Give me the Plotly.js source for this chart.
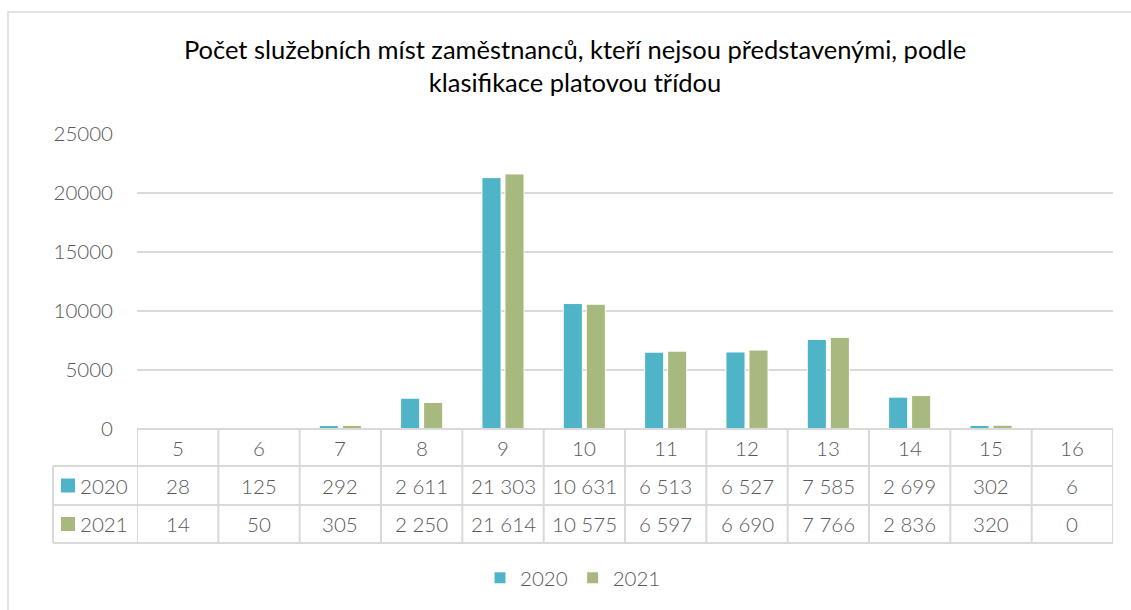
<!DOCTYPE html>
<html>
<head>
<meta charset="utf-8">
<script src="https://cdn.plot.ly/plotly-3.0.1.min.js"></script>
<style>html,body{margin:0;padding:0;background:#fff;}#chart{width:1131px;height:610px;}</style>
</head>
<body>
<div id="chart"></div>
<script>
const categories = ['5','6','7','8','9','10','11','12','13','14','15','16'];
const values2020 = [28, 125, 292, 2611, 21303, 10631, 6513, 6527, 7585, 2699, 302, 6];
const values2021 = [14, 50, 305, 2250, 21614, 10575, 6597, 6690, 7766, 2836, 320, 0];
const seriesNames = ['2020', '2021'];
const seriesColors = ['#4FB4C8', '#A8B97F'];
const titleText = 'Počet služebních míst zaměstnanců, kteří nejsou představenými, podle<br>klasifikace platovou třídou';

const W = 1131, H = 610, L = 137, R = 1113, T = 134, B = 429;
const px2x = p => (p - L) / (R - L);
const py2y = p => (B - p) / (B - T);
const fmt = v => String(v).replace(/\B(?=(\d{3})+(?!\d))/g, '\u00a0');

const font = 'Lato, "Open Sans", sans-serif';
const txtColor = '#595959';
const gridColor = '#D9D9D9';
const numSize = 20.5;
const numWeight = 300;

const traces = [values2020, values2021].map((vals, k) => ({
  type: 'bar', x: categories, y: vals, name: seriesNames[k],
  marker: {color: seriesColors[k], line: {color: '#ffffff', width: 1}},
  hoverinfo: 'x+y+name'
}));

const rowY = [py2y(447.5), py2y(485.5), py2y(524)];
const shapes = [];
const annotations = [];
// outer border
shapes.push({type: 'rect', xref: 'paper', yref: 'paper', x0: px2x(8), x1: px2x(1145), y0: py2y(12), y1: py2y(625), line: {color: gridColor, width: 1.5}});
// table vertical lines
for (let i = 0; i <= categories.length; i++) {
  shapes.push({type: 'line', xref: 'x', yref: 'paper', x0: i - 0.5, x1: i - 0.5, y0: 0, y1: py2y(543), line: {color: gridColor, width: 2}});
}
shapes.push({type: 'line', xref: 'paper', yref: 'paper', x0: px2x(53), x1: px2x(53), y0: py2y(466), y1: py2y(543), line: {color: gridColor, width: 2}});
[466, 505, 543].forEach(p => shapes.push({type: 'line', xref: 'paper', yref: 'paper', x0: px2x(53), x1: 1, y0: py2y(p), y1: py2y(p), line: {color: gridColor, width: 2}}));
shapes.push({type: 'line', xref: 'paper', yref: 'paper', x0: 0, x1: 1, y0: 0, y1: 0, line: {color: gridColor, width: 2}});

const cellFont = {family: font, size: numSize, color: txtColor, weight: numWeight};
categories.forEach((c, i) => {
  annotations.push({xref: 'x', yref: 'paper', x: i, y: rowY[0], xanchor: 'center', yanchor: 'middle', text: c, showarrow: false, font: cellFont});
  annotations.push({xref: 'x', yref: 'paper', x: i, y: rowY[1], xanchor: 'center', yanchor: 'middle', text: fmt(values2020[i]), showarrow: false, font: cellFont});
  annotations.push({xref: 'x', yref: 'paper', x: i, y: rowY[2], xanchor: 'center', yanchor: 'middle', text: fmt(values2021[i]), showarrow: false, font: cellFont});
});
seriesNames.forEach((n, k) => {
  const cy = [485.5, 524][k];
  shapes.push({type: 'rect', xref: 'paper', yref: 'paper', x0: px2x(61), x1: px2x(75), y0: py2y(cy - 7), y1: py2y(cy + 7), fillcolor: seriesColors[k], line: {width: 0}});
  annotations.push({xref: 'paper', yref: 'paper', x: px2x(78), y: py2y(cy), xanchor: 'left', yanchor: 'middle', text: n, showarrow: false, font: cellFont});
});

const layout = {
  width: W, height: H,
  margin: {l: L, r: W - R, t: T, b: H - B, pad: 0},
  paper_bgcolor: '#ffffff', plot_bgcolor: '#ffffff',
  font: {family: font, color: txtColor},
  title: {text: titleText, xref: 'container', yref: 'container', x: 575 / W, xanchor: 'center', y: 1 - 59 / H, yanchor: 'top', font: {family: font, size: 25.5, color: '#000000'}},
  barmode: 'group', bargap: 0.434, bargroupgap: 0.17,
  xaxis: {type: 'category', showticklabels: false, showgrid: false, showline: false, zeroline: false, ticks: '', range: [-0.5, 11.5], fixedrange: true},
  yaxis: {range: [0, 25000], dtick: 5000, tickformat: 'd', showgrid: true, gridcolor: gridColor, gridwidth: 1.5, zeroline: false, showline: false, ticks: '', ticklabelstandoff: 23, tickfont: {family: font, size: numSize, color: txtColor, weight: numWeight}, fixedrange: true},
  legend: {orientation: 'h', xref: 'container', yref: 'container', x: 573 / W, xanchor: 'center', y: 1 - 578 / H, yanchor: 'middle', font: {family: font, size: numSize, color: txtColor, weight: numWeight}, itemwidth: 30, traceorder: 'normal'},
  shapes: shapes,
  annotations: annotations,
  showlegend: true
};

Plotly.newPlot('chart', traces, layout, {displayModeBar: false});
</script>
</body>
</html>
